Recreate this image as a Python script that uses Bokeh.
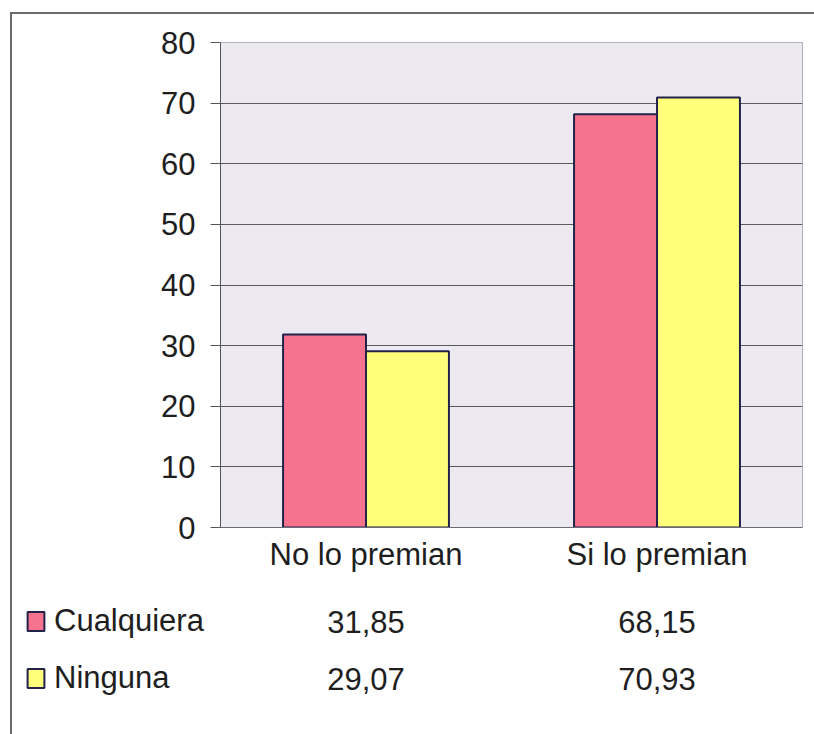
from bokeh.plotting import figure
from bokeh.layouts import column
from bokeh.models import FactorRange, ColumnDataSource, Legend, LegendItem, FixedTicker, Range1d
from bokeh.transform import dodge
from bokeh.embed import file_html
from bokeh.resources import INLINE

# --- data -------------------------------------------------------------
categories = ["No lo premian", "Si lo premian"]
series_names = ["Cualquiera", "Ninguna"]
cualquiera = [31.85, 68.15]
ninguna = [29.07, 70.93]
y_ticks = [0, 10, 20, 30, 40, 50, 60, 70, 80]


def fmt(v):
    return f"{v:.2f}".replace(".", ",")


# --- styling ----------------------------------------------------------
FONT = "Liberation Sans"
FS = "31px"
TXT = "#1e1e1e"
PINK = "#F7728E"
YELLOW = "#FFFF7C"
EDGE = "#22224a"
FRAME_BG = "#EDE9F1"
BORDER = "2px solid #6a6a6a"

FIG_W = 802
CHART_H = 560
TABLE_H = 160
LEFT, RIGHT, TOP, BOTTOM = 208, 12, 28, 46

# --- bar chart ----------------------------------------------------------
src = ColumnDataSource(dict(cat=categories, c=cualquiera, n=ninguna))

p = figure(width=FIG_W, height=CHART_H, x_range=FactorRange(*categories), y_range=(0, 80),
           output_backend="svg", toolbar_location=None,
           min_border_left=LEFT, min_border_right=RIGHT,
           min_border_top=TOP, min_border_bottom=BOTTOM)
p.frame_align = False
p.background_fill_color = FRAME_BG
p.border_fill_color = "white"
p.outline_line_color = "#b0b0b8"

bw = 0.285
bar_style = dict(width=bw, source=src, line_color=EDGE, line_width=2)
p.vbar(x=dodge("cat", -bw / 2, range=p.x_range), top="c", fill_color=PINK, **bar_style)
p.vbar(x=dodge("cat", bw / 2, range=p.x_range), top="n", fill_color=YELLOW, **bar_style)

p.xgrid.visible = False
p.ygrid.ticker = FixedTicker(ticks=y_ticks)
p.ygrid.grid_line_color = "#5a5a5a"
p.ygrid.grid_line_width = 1

ya = p.yaxis[0]
ya.ticker = FixedTicker(ticks=y_ticks)
ya.axis_line_color = "#555555"
ya.major_tick_line_color = "#555555"
ya.major_tick_out = 10
ya.major_tick_in = 0
ya.minor_tick_line_color = None
ya.major_label_standoff = 15
ya.major_label_text_font = FONT
ya.major_label_text_font_size = FS
ya.major_label_text_color = TXT

xa = p.xaxis[0]
xa.axis_line_color = "#6a6a7a"
xa.major_tick_line_color = None
xa.major_tick_out = 0
xa.major_tick_in = 0
xa.major_label_standoff = 9
xa.major_label_text_font = FONT
xa.major_label_text_font_size = FS
xa.major_label_text_color = TXT

# --- data table under the chart -----------------------------------------
# numeric x range lined up with the category slots of the chart above
slot_px = (FIG_W - LEFT - RIGHT) / len(categories)
x0 = -LEFT / slot_px
x1 = (FIG_W - LEFT) / slot_px
row_px = 57
first_row_px = 47
t = figure(width=FIG_W, height=TABLE_H, output_backend="svg", toolbar_location=None,
           x_range=Range1d(x0, x1),
           y_range=Range1d((TABLE_H - first_row_px) / row_px, -first_row_px / row_px),
           x_axis_location=None, y_axis_location=None, min_border=0)
t.frame_align = False
t.grid.visible = False
t.outline_line_color = None
t.background_fill_color = "white"
t.border_fill_color = "white"

centers = [i + 0.5 for i in range(len(categories))]
for row, vals in enumerate((cualquiera, ninguna)):
    t.text(x=centers, y=[row] * len(vals), text=[fmt(v) for v in vals],
           text_align="center", text_baseline="middle",
           text_font={"value": FONT}, text_font_size=FS, text_color=TXT)

# hidden proxies of the two bar series, used only for the legend swatches
sw1 = t.vbar(x=centers, top=cualquiera, width=bw, fill_color=PINK, line_color=EDGE,
             line_width=2, visible=False)
sw2 = t.vbar(x=centers, top=ninguna, width=bw, fill_color=YELLOW, line_color=EDGE,
             line_width=2, visible=False)
LBL_H = 36
legend = Legend(items=[LegendItem(label=series_names[0], renderers=[sw1]),
                       LegendItem(label=series_names[1], renderers=[sw2])],
                location=(13, TABLE_H - (first_row_px - LBL_H // 2) - (2 * LBL_H + row_px - LBL_H)),
                orientation="vertical",
                label_text_font=FONT, label_text_font_size=FS, label_text_color=TXT,
                label_height=LBL_H, glyph_height=24, glyph_width=21, label_standoff=8,
                spacing=row_px - LBL_H, padding=0, margin=0,
                border_line_color=None, background_fill_alpha=0)
t.add_layout(legend)

layout = column(p, t, spacing=0, margin=(12, 0, 0, 10),
                styles={"border-left": BORDER, "border-top": BORDER})

open("out.html", "w").write(file_html(layout, INLINE))
